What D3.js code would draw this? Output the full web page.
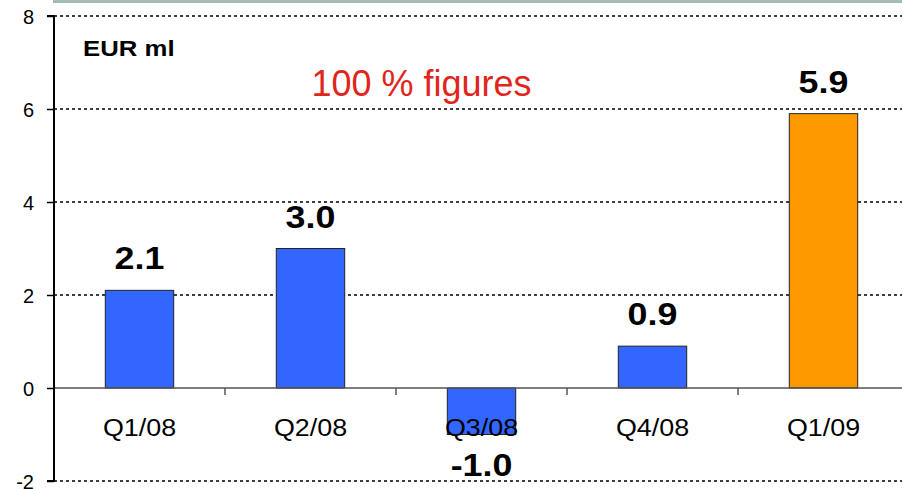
<!DOCTYPE html>
<html><head><meta charset="utf-8">
<script src="https://cdn.jsdelivr.net/npm/d3@7/dist/d3.min.js"></script>
<style>body{margin:0;background:#fff}svg{display:block}text{font-family:Arial,"Liberation Sans",sans-serif}</style>
</head><body>
<svg id="c" width="902" height="489"></svg>
<script>
const categories = ["Q1/08","Q2/08","Q3/08","Q4/08","Q1/09"];
const values = [2.1, 3.0, -1.0, 0.9, 5.9];
const valueLabels = ["2.1","3.0","-1.0","0.9","5.9"];
const barColors = ["#3366ff","#3366ff","#3366ff","#3366ff","#ff9900"];
const yTicks = [-2, 0, 2, 4, 6, 8];
const unitLabel = "EUR ml";
const titleText = "100 % figures";

(function(){
const svg = d3.select("#c");
const mL = 54, mR = 909, mT = 16, mB = 481;
const SX = 1.12;
const x = d3.scaleBand().domain(categories).range([mL, mR]).paddingInner(0.6).paddingOuter(0.3);
const y = d3.scaleLinear().domain([-2, 8]).range([mB, mT]);
const cx = c => x(c) + x.bandwidth() / 2;

// top band
svg.append("rect").attr("x", 53).attr("y", 0).attr("width", 902 - 53).attr("height", 3).attr("fill", "#a3bab5");

// gridlines
svg.append("g").selectAll("line").data(yTicks.filter(d => d !== 0)).join("line")
  .attr("x1", mL).attr("x2", 902).attr("y1", d => y(d)).attr("y2", d => y(d))
  .attr("stroke", "#000").attr("stroke-width", 1.5).attr("stroke-dasharray", "3,3");

// bars
svg.append("g").selectAll("rect").data(values).join("rect")
  .attr("x", (d, i) => x(categories[i]))
  .attr("width", x.bandwidth())
  .attr("y", d => y(Math.max(0, d)))
  .attr("height", d => Math.abs(y(d) - y(0)))
  .attr("fill", (d, i) => barColors[i])
  .attr("stroke", "#222").attr("stroke-width", 1);

// zero line
svg.append("line").attr("x1", mL).attr("x2", 902).attr("y1", y(0)).attr("y2", y(0))
  .attr("stroke", "#555").attr("stroke-width", 1.5);

// category separator ticks
const step = x.step();
svg.append("g").selectAll("line").data(categories.slice(0, -1)).join("line")
  .attr("x1", d => cx(d) + step / 2).attr("x2", d => cx(d) + step / 2)
  .attr("y1", y(0)).attr("y2", y(0) + 7)
  .attr("stroke", "#555").attr("stroke-width", 1.5);

// y axis
const yAxis = d3.axisLeft(y).tickValues(yTicks).tickSize(7).tickPadding(13).tickFormat(d => String(d));
const ga = svg.append("g").attr("transform", `translate(${mL},0)`).call(yAxis);
ga.attr("font-size", 20).attr("font-family", "Arial, 'Liberation Sans', sans-serif");
ga.select(".domain").attr("stroke", "#000").attr("stroke-width", 2).attr("d", `M-7,${mT}H0V${mB}H-7`);
ga.selectAll(".tick line").attr("stroke", "#000").attr("stroke-width", 1.5);
ga.selectAll(".tick text").attr("font-size", 20).attr("fill", "#000").attr("dy", "0.36em");

// category labels
svg.append("g").selectAll("text").data(categories).join("text")
  .attr("transform", d => `translate(${cx(d)},436) scale(${SX},1)`)
  .attr("text-anchor", "middle").attr("font-size", 24).attr("fill", "#000")
  .text(d => d);

// value labels
svg.append("g").selectAll("text").data(values).join("text")
  .attr("transform", (d, i) => `translate(${cx(categories[i])},${d >= 0 ? y(d) - 21 : y(d) + 41.5}) scale(${SX},1)`)
  .attr("text-anchor", "middle").attr("font-size", 32).attr("font-weight", "bold").attr("fill", "#000")
  .text((d, i) => valueLabels[i]);

// unit label
svg.append("text").attr("transform", `translate(83,56) scale(${SX},1)`)
  .attr("font-size", 23).attr("font-weight", "bold").attr("fill", "#000").text(unitLabel);

// title
svg.append("text").attr("x", 421.5).attr("y", 96).attr("text-anchor", "middle")
  .attr("font-size", 36).attr("fill", "#e0261c").text(titleText);
})();
</script>
</body></html>
